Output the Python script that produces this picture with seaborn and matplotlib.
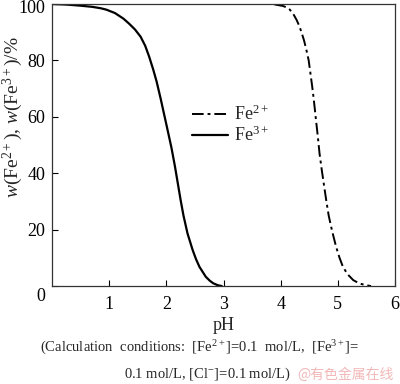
import matplotlib
matplotlib.use("Agg")
import matplotlib.pyplot as plt
import seaborn as sns
import pandas as pd
from matplotlib.lines import Line2D
import matplotlib.transforms as mtransforms

sns.set_theme(style="ticks")
plt.rcParams['font.family'] = ['Liberation Serif', 'DejaVu Serif']
plt.rcParams['mathtext.fontset'] = 'custom'
plt.rcParams['mathtext.rm'] = 'Liberation Serif'
plt.rcParams['mathtext.it'] = 'Liberation Serif:italic'

# Fe3+ (solid)
ph_fe3 = [0.0, 0.25, 0.5, 0.7, 0.85, 0.95, 1.1, 1.25, 1.35, 1.45, 1.55, 1.63, 1.7, 1.77,
          1.83, 1.9, 1.96, 2.02, 2.09, 2.15, 2.2, 2.25, 2.3, 2.37, 2.46, 2.52, 2.58, 2.69,
          2.76, 2.82, 2.9, 2.97]
w_fe3 = [100.0, 99.8, 99.4, 99.0, 98.5, 98.0, 96.8, 94.8, 93.0, 91.0, 88.4, 85.2, 81.3, 76.8,
         72.5, 66.5, 61.0, 55.5, 49.0, 42.5, 36.5, 30.5, 25.0, 18.7, 12.8, 9.5, 6.8, 3.3,
         1.9, 1.0, 0.3, 0.0]
# Fe2+ (dash-dot)
ph_fe2 = [3.5, 3.85, 4.04, 4.1, 4.16, 4.22, 4.28, 4.33, 4.37, 4.41, 4.45, 4.49, 4.52, 4.55,
          4.58, 4.62, 4.65, 4.68, 4.72, 4.76, 4.8, 4.84, 4.9, 4.97, 5.03, 5.09, 5.17, 5.27,
          5.38, 5.5, 5.58]
w_fe2 = [100.0, 100.0, 99.3, 98.8, 98.0, 96.5, 94.3, 92.0, 89.6, 87.0, 83.7, 80.0, 75.5, 71.0,
         66.0, 58.5, 53.0, 47.0, 41.0, 35.5, 30.0, 25.0, 19.5, 13.9, 10.0, 6.8, 4.2, 2.1,
         0.9, 0.3, 0.0]

x_ticks = [1, 2, 3, 4, 5, 6]
y_ticks = [0, 20, 40, 60, 80, 100]

df2 = pd.DataFrame({"pH": ph_fe2, "w": w_fe2})
df3 = pd.DataFrame({"pH": ph_fe3, "w": w_fe3})

fig = plt.figure(figsize=(4.0, 3.84), dpi=100)
ax = fig.add_axes([0.13, 0.255, 0.8575, 0.7346])

sns.lineplot(data=df2, x="pH", y="w", ax=ax, color="black", lw=1.4,
             linestyle=(0, (6, 2, 1.5, 2)), sort=False)
sns.lineplot(data=df3, x="pH", y="w", ax=ax, color="black", lw=1.6, sort=False)

ax.set_xlim(0, 6)
ax.set_ylim(0, 100)
ax.set_xticks(x_ticks)
ax.set_yticks(y_ticks)
ax.tick_params(direction="in", length=4, width=0.8, labelsize=13, colors="black",
               top=False, right=False)
ax.tick_params(axis="x", pad=7)
ax.tick_params(axis="y", pad=5)
for s in ax.spines.values():
    s.set_linewidth(0.9)
    s.set_color("#333333")

# shift the y "0" label down toward the corner, and "100" slightly down from the edge
ylbls = ax.get_yticklabels()
ylbls[0].set_transform(ylbls[0].get_transform() + mtransforms.ScaledTranslation(0, -0.08, fig.dpi_scale_trans))
ylbls[-1].set_transform(ylbls[-1].get_transform() + mtransforms.ScaledTranslation(0, -0.03, fig.dpi_scale_trans))

ax.set_xlabel("pH", fontsize=13, labelpad=3)
ax.set_ylabel(r"$w$(Fe$^{2+}$), $w$(Fe$^{3+}$)/%", fontsize=14)
ax.yaxis.set_label_coords(-0.078, 0.6)

handles = [Line2D([], [], color="black", lw=1.4, linestyle=(0, (6, 2, 1.5, 2))),
           Line2D([], [], color="black", lw=1.6)]
ax.legend(handles, [r"Fe$^{2+}$", r"Fe$^{3+}$"], loc="upper left",
          bbox_to_anchor=(0.36, 0.7), frameon=False, fontsize=13,
          handlelength=2.0, handletextpad=0.35, labelspacing=0.1)

fig.text(0.5, 0.094, r"(Calculation  conditions:  [Fe$^{2+}$]=0.1  mol/L,  [Fe$^{3+}$]=",
         ha="center", va="center", fontsize=10.5)
fig.text(0.518, 0.024, r"0.1 mol/L, [Cl$^{-}$]=0.1 mol/L)",
         ha="center", va="center", fontsize=10.5)
fig.text(0.985, 0.024, "@有色金属在线", ha="right", va="center", fontsize=10,
         color="#f2b8b8", family=["Noto Sans CJK SC", "DejaVu Sans"])

fig.savefig("out.png", dpi=100)
